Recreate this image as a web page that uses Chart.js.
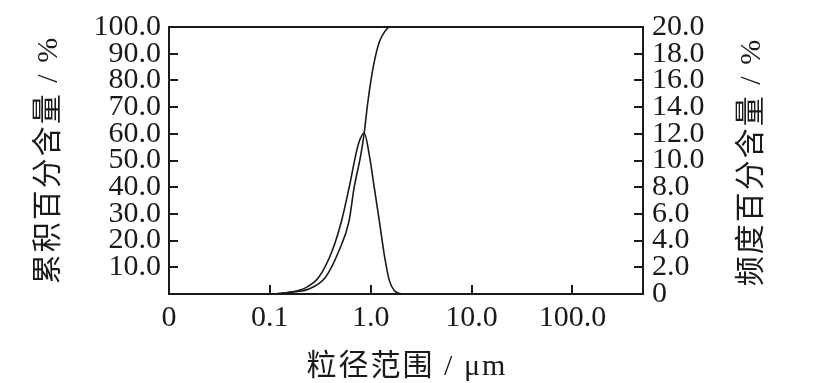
<!DOCTYPE html>
<html><head><meta charset="utf-8">
<script src="https://cdn.jsdelivr.net/npm/chart.js@4.4.0/dist/chart.umd.min.js"></script>
<style>html,body{margin:0;padding:0;background:#fff;}#wrap{width:814px;height:383px;}</style>
</head><body><div id="wrap"><canvas id="c" width="814" height="383"></canvas></div>
<script>
// ---- data ----
const xTickValues = [0.01, 0.1, 1, 10, 100];
const xTickLabels = ['0', '0.1', '1.0', '10.0', '100.0'];
const leftTickValues = [0, 10, 20, 30, 40, 50, 60, 70, 80, 90, 100];
const rightTickValues = [0, 2, 4, 6, 8, 10, 12, 14, 16, 18, 20];
const xTitle = '粒径范围 / μm';
const leftTitle = '累积百分含量 / %';
const rightTitle = '频度百分含量 / %';

// cumulative percent (left axis)
const cumSize = [0.1, 0.122, 0.164, 0.243, 0.356, 0.484, 0.610, 0.684, 0.798, 0.861, 0.929, 1.0, 1.084, 1.216, 1.365, 1.45, 1.53, 500];
const cumPercent = [0, 0.2, 0.7, 1.9, 6.3, 16.2, 27.4, 39.8, 52.2, 60.3, 70.9, 79.5, 87.0, 94.4, 98.1, 99.3, 100, 100];

// frequency percent (right axis)
const freqSize = [0.1, 0.111, 0.153, 0.225, 0.305, 0.415, 0.513, 0.610, 0.711, 0.767, 0.861, 0.966, 1.084, 1.216, 1.365, 1.53, 1.72, 2.0];
const freqPercent = [0, 0.01, 0.11, 0.46, 1.25, 3.24, 5.47, 7.96, 10.44, 11.4, 12.06, 10.44, 7.96, 5.48, 2.9, 1.0, 0.24, 0];

const INK = '#1a1a1a';
const TICK_FONT = {family: '"Liberation Serif", "Times New Roman", serif', size: 30};
const TITLE_FONT = '30px "Liberation Serif", "Noto Sans CJK SC", serif';

const framePlugin = {
  id: 'frame',
  afterDatasetsDraw(chart) {
    const {ctx, chartArea: a, scales} = chart;
    ctx.save();
    ctx.strokeStyle = INK;
    ctx.lineWidth = 2;
    ctx.strokeRect(a.left, a.top, a.right - a.left, a.bottom - a.top);
    const L = 9;
    ctx.beginPath();
    xTickValues.forEach(v => {
      const px = Math.round(scales.x.getPixelForValue(v));
      if (px <= a.left + 1 || px >= a.right - 1) return;
      ctx.moveTo(px, a.bottom); ctx.lineTo(px, a.bottom - L);
    });
    leftTickValues.forEach(v => {
      const py = Math.round(scales.y.getPixelForValue(v));
      if (py <= a.top + 1 || py >= a.bottom - 1) return;
      ctx.moveTo(a.left, py); ctx.lineTo(a.left + L, py);
    });
    rightTickValues.forEach(v => {
      const py = Math.round(scales.y2.getPixelForValue(v));
      if (py <= a.top + 1 || py >= a.bottom - 1) return;
      ctx.moveTo(a.right, py); ctx.lineTo(a.right - L, py);
    });
    ctx.stroke();
    // axis titles
    ctx.fillStyle = INK;
    ctx.font = TITLE_FONT;
    try { ctx.letterSpacing = '2px'; } catch (e) {}
    ctx.textAlign = 'center';
    ctx.textBaseline = 'middle';
    ctx.fillText(xTitle, (a.left + a.right) / 2 + 1, 367);
    ctx.save();
    ctx.translate(49, 160);
    ctx.rotate(-Math.PI / 2);
    ctx.fillText(leftTitle, 0, 0);
    ctx.restore();
    ctx.save();
    ctx.translate(752, 162);
    ctx.rotate(-Math.PI / 2);
    ctx.fillText(rightTitle, 0, 0);
    ctx.restore();
    ctx.restore();
  }
};

new Chart(document.getElementById('c'), {
  type: 'line',
  data: {
    datasets: [
      {
        label: 'cumulative',
        data: cumSize.map((x, i) => ({x, y: cumPercent[i]})),
        yAxisID: 'y',
        borderColor: INK, borderWidth: 1.6, pointRadius: 0,
        cubicInterpolationMode: 'monotone', fill: false
      },
      {
        label: 'frequency',
        data: freqSize.map((x, i) => ({x, y: freqPercent[i]})),
        yAxisID: 'y2',
        borderColor: INK, borderWidth: 1.6, pointRadius: 0,
        cubicInterpolationMode: 'monotone', fill: false
      }
    ]
  },
  options: {
    responsive: false,
    animation: false,
    devicePixelRatio: 1,
    layout: {padding: {top: 25, left: 0, right: 0, bottom: 0}},
    plugins: {legend: {display: false}, tooltip: {enabled: false}},
    scales: {
      x: {
        type: 'logarithmic', position: 'bottom', min: 0.01, max: 500,
        afterBuildTicks: s => { s.ticks = xTickValues.map(v => ({value: v})); },
        afterFit: s => { s.height = 89; },
        grid: {display: false, drawTicks: false},
        border: {display: false},
        ticks: {
          color: INK, font: TICK_FONT, padding: 6, maxRotation: 0, autoSkip: false,
          callback: (v, i) => xTickLabels[i]
        }
      },
      y: {
        type: 'linear', position: 'left', min: 0, max: 100,
        afterBuildTicks: s => { s.ticks = leftTickValues.map(v => ({value: v})); },
        afterFit: s => { s.width = 169; },
        grid: {display: false, drawTicks: false},
        border: {display: false},
        ticks: {
          color: INK, font: TICK_FONT, padding: 8, autoSkip: false,
          callback: v => v === 0 ? '' : Number(v).toFixed(1)
        }
      },
      y2: {
        type: 'linear', position: 'right', min: 0, max: 20,
        afterBuildTicks: s => { s.ticks = rightTickValues.map(v => ({value: v})); },
        afterFit: s => { s.width = 171; },
        grid: {display: false, drawTicks: false},
        border: {display: false},
        ticks: {
          color: INK, font: TICK_FONT, padding: 9, autoSkip: false,
          callback: v => v === 0 ? '0' : Number(v).toFixed(1)
        }
      }
    }
  },
  plugins: [framePlugin]
});
</script>
</body></html>
